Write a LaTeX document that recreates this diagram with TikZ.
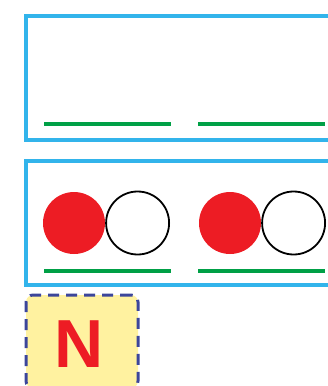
\documentclass[tikz,border=0pt]{standalone}
\usepackage{fontspec}
\newfontfamily\labelfont{Liberation Sans}
\usepackage{tikz}
\usetikzlibrary{positioning}
\definecolor{framecyan}{RGB}{50,180,235}
\definecolor{barpgreen}{RGB}{0,160,70}
\definecolor{dotred}{RGB}{237,28,36}
\definecolor{tagyellow}{RGB}{255,242,160}
\definecolor{tagnavy}{RGB}{60,70,155}
\tikzset{
  frame/.style={draw=framecyan, line width=3.2pt},
  answerbar/.style={draw=barpgreen, line width=4pt},
  reddot/.style={circle, fill=dotred, minimum size=62pt, inner sep=0pt},
  whitedot/.style={circle, draw=black, line width=1.8pt, fill=white, minimum size=63pt, inner sep=0pt},
  tagbox/.style={draw=tagnavy, fill=tagyellow, line width=3pt, dash pattern=on 11pt off 7pt,
    rounded corners=7pt, minimum width=112pt, minimum height=93pt, inner sep=0pt},
}
\begin{document}
\begin{tikzpicture}[x=1pt, y=-1pt]
    \useasboundingbox (0, 0) rectangle (328, 386);
    % answer frames (open on the right)
    \draw[frame] (26, 16) rectangle (340, 140);
    \draw[frame] (26, 161) rectangle (340, 285);
    % green answer lines
    \foreach \y in {124, 271}
    {
      \foreach \x in {44, 198}
      {
        \draw[answerbar] (\x, \y) -- ++(127, 0);
      }
    }
    % counters
    \node[reddot] (red1) at (74, 223) {};
    \node[whitedot, right=0pt of red1] (white1) {};
    \node[reddot] (red2) at (230, 223) {};
    \node[whitedot, right=0pt of red2] (white2) {};
    % tag
    \node[tagbox] (tag) at (82, 341.5) {};
    \node[font=\labelfont\bfseries\fontsize{68}{68}\selectfont, text=dotred, inner sep=0pt]
      (letter) at (79, 344) {N};
\end{tikzpicture}
\end{document}
